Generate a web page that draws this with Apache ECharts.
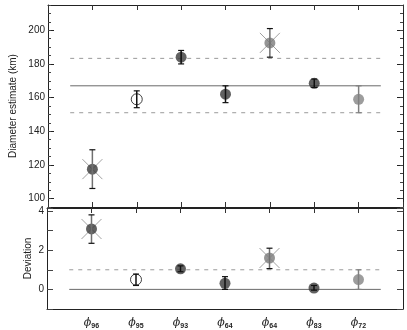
<!DOCTYPE html>
<html><head><meta charset="utf-8">
<script src="https://cdn.jsdelivr.net/npm/echarts@6/dist/echarts.min.js"></script>
<style>html,body{margin:0;padding:0;background:#fff}#c{width:407px;height:330px}</style>
</head><body><div id="c"></div>
<script>
const subscripts = ['96','95','93','64','64','83','72'];
const xPos = [1,2,3,4,5,6,7];
const diam = [117.5,159,184,162,192.5,168.5,159];
const diamLo = [106,154,180,157,184,166,151];
const diamHi = [129,164,188,167,201,171,167];
const dev = [3.08,0.5,1.05,0.31,1.6,0.07,0.5];
const devLo = [2.35,0.2,0.9,0.0,1.06,-0.04,0.0];
const devHi = [3.8,0.78,1.2,0.65,2.1,0.2,1.0];
const crossed = [true,false,false,false,true,false,false];
const fillCol = ['#3a3a3a','#ffffff','#3a3a3a','#3a3a3a','#7a7a7a','#3a3a3a','#858585'];
const barCol = ['#707070','#111','#111','#111','#707070','#111','#808080'];
const capCol = ['#111','#111','#111','#111','#111','#111','#808080'];
const diamTicks = [100,120,140,160,180,200];
const devTicks = [0,2,4];
const meanLine = 167, bandLo = 151, bandHi = 183.3;
const devZero = 0, devOne = 1;
const lineStart = 0.5, lineEnd = 7.5;

const chart = echarts.init(document.getElementById('c'), null, {renderer:'canvas'});
const F = 'Liberation Sans, Arial, sans-serif';
const X = 'path://M0,0L10,10M10,0L0,10';

function pts(vals){ return xPos.map((x,i)=>({value:[x,vals[i]], itemStyle:{color:fillCol[i], borderColor: i===1?'#111':fillCol[i], borderWidth: i===1?1:0}})); }
function crossPts(vals){ return xPos.map((x,i)=>crossed[i]?[x,vals[i]]:null).filter(v=>v); }
function errSeries(g, lo, hi){
  return {type:'custom', xAxisIndex:g*2, yAxisIndex:g*4, z:5,
    data: xPos.map((x,i)=>[x,lo[i],hi[i],i]),
    renderItem:(p,api)=>{
      const i=api.value(3);
      const a=api.coord([api.value(0),api.value(1)]), b=api.coord([api.value(0),api.value(2)]);
      const c=3;
      return {type:'group',children:[
        {type:'line',shape:{x1:a[0],y1:a[1],x2:b[0],y2:b[1]},style:{stroke:barCol[i],lineWidth:1.5}},
        {type:'line',shape:{x1:a[0]-c,y1:a[1],x2:a[0]+c,y2:a[1]},style:{stroke:capCol[i],lineWidth:1.2}},
        {type:'line',shape:{x1:b[0]-c,y1:b[1],x2:b[0]+c,y2:b[1]},style:{stroke:capCol[i],lineWidth:1.2}}
      ]};
    }};
}
function hline(g, y, dashed){
  return {type:'line', xAxisIndex:g*2, yAxisIndex:g*4, symbol:'none', silent:true, z:1,
    data:[[lineStart,y],[lineEnd,y]],
    lineStyle:{color: dashed?'#9a9a9a':'#6a6a6a', width:1, type: dashed?[4,5]:'solid'}};
}
function xAx(g, pos, showLabel){
  return {type:'value', gridIndex:g, min:0, max:8, interval:1, position:pos,
    axisLine:{show:true, onZero:false, lineStyle:{color:'#222',width:1}},
    axisTick:{show: !(g===1 && pos==='bottom'), inside:true, length:5, lineStyle:{color:'#333'}},
    splitLine:{show:false},
    axisLabel:{show:showLabel, margin:8, formatter:v=>{const k=xPos.indexOf(v); return k<0?'':'{p|ϕ}{s|'+subscripts[k]+'}';},
      rich:{p:{fontFamily:'DejaVu Serif',fontSize:11,color:'#222',fontStyle:'italic'},s:{fontFamily:F,fontSize:7,fontWeight:'bold',color:'#222',verticalAlign:'bottom',padding:[6,0,0,0]}}}};
}
function yMinor(g, pos, min, max, step, len){
  return {type:'value', gridIndex:g, min, max, interval:step, position:pos,
    axisLine:{show:true, onZero:false, lineStyle:{color:'#222',width:1}},
    axisTick:{show:true, inside:true, length:len, lineStyle:{color:'#444'}},
    splitLine:{show:false}, axisLabel:{show:false}};
}
function yMajor(g, pos, min, max, ticks, label, name, gap){
  return {type:'value', gridIndex:g, min, max, position:pos,
    axisLine:{show:false, onZero:false},
    axisTick:{show:true, inside:true, length:6, customValues:ticks, lineStyle:{color:'#222'}},
    splitLine:{show:false},
    axisLabel:{show:label, customValues:ticks, fontFamily:F, fontSize:10, color:'#222', margin:3},
    name: name, nameLocation:'middle', nameGap:gap, nameRotate:90, nameMoveOverlap:false,
    nameTextStyle:{fontFamily:F, fontSize:10, color:'#222'}};
}
chart.setOption({
  animation:false,
  grid:[{left:47,right:4,top:5,height:202},{left:47,right:4,top:208,height:101.5}],
  xAxis:[xAx(0,'bottom',false), xAx(0,'top',false), xAx(1,'bottom',true), xAx(1,'top',false)],
  yAxis:[yMajor(0,'left',95,215,diamTicks,true,'Diameter estimate (km)',30),
         yMinor(0,'left',95,215,5,3),
         yMajor(0,'right',95,215,diamTicks,false,'',0),
         yMinor(0,'right',95,215,5,3),
         yMajor(1,'left',-1,4.15,devTicks,true,'Deviation',14),
         yMinor(1,'left',-1,4.15,1,6),
         yMajor(1,'right',-1,4.15,devTicks,false,'',0),
         yMinor(1,'right',-1,4.15,1,6)],
  series:[
    hline(0,meanLine,false), hline(0,bandLo,true), hline(0,bandHi,true),
    hline(1,devZero,false), hline(1,devOne,true),
    {type:'scatter', xAxisIndex:0, yAxisIndex:0, symbol:X, symbolSize:20, z:2, data:crossPts(diam),
      itemStyle:{color:'none', borderColor:'#8a8a8a', borderWidth:1}},
    {type:'scatter', xAxisIndex:2, yAxisIndex:4, symbol:X, symbolSize:20, z:2, data:crossPts(dev),
      itemStyle:{color:'none', borderColor:'#8a8a8a', borderWidth:1}},
    {type:'scatter', xAxisIndex:0, yAxisIndex:0, symbol:'circle', symbolSize:11, z:3, data:pts(diam)},
    {type:'scatter', xAxisIndex:2, yAxisIndex:4, symbol:'circle', symbolSize:11, z:3, data:pts(dev)},
    errSeries(0, diamLo, diamHi), errSeries(1, devLo, devHi)
  ]
});
</script></body></html>
